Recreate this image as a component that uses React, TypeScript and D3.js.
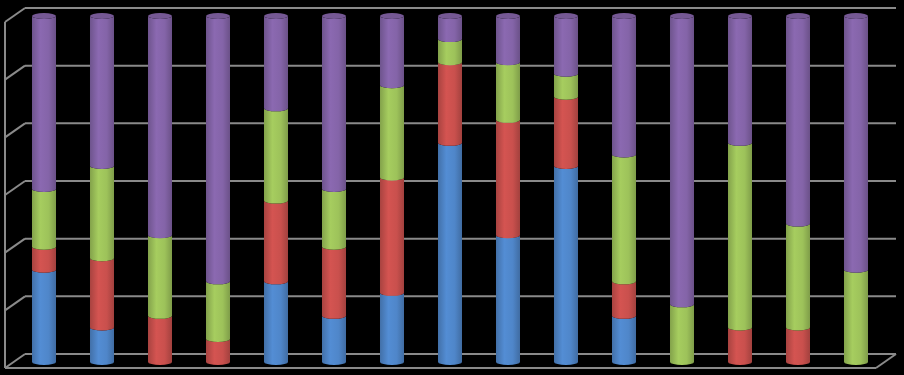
import React from 'react';
import * as d3 from 'd3';

const width = 904;
const height = 375;

// 15 columns, no visible labels
const categories = d3.range(15).map(i => `Q${i + 1}`);
const seriesKeys = ['blue', 'red', 'green', 'purple'];
const blue = [8, 3, 0, 0, 7, 4, 6, 19, 11, 17, 4, 0, 0, 0, 0];
const red = [2, 6, 4, 2, 7, 6, 10, 7, 10, 6, 3, 0, 3, 3, 0];
const green = [5, 8, 7, 5, 8, 5, 8, 2, 5, 2, 11, 5, 16, 9, 8];
const purple = [15, 13, 19, 23, 8, 15, 6, 2, 4, 5, 12, 25, 11, 18, 22];
const gridValues = [0, 5, 10, 15, 20, 25, 30];

const colors = {
  blue: '#4f86c9',
  red: '#c9504d',
  green: '#9dc25a',
  purple: '#8464a8',
};

const table = categories.map((c, i) => ({
  cat: c,
  blue: blue[i],
  red: red[i],
  green: green[i],
  purple: purple[i],
}));

// fake 3d: depth offset from back wall to front edge
const depthX = -20;
const depthY = 14;
const backLeft = 25;
const backRight = 896;

const yBack = d3.scaleLinear().domain([0, 30]).range([354, 8]);
const yBar = d3.scaleLinear().domain([0, 30]).range([362, 16]);
const x = d3
  .scaleBand()
  .domain(categories)
  .range([15, 885])
  .paddingInner(0.586)
  .paddingOuter(0.293);

const ry = 3;

const segPath = (cx, rx, yt, yb) =>
  `M${cx - rx},${yt} L${cx - rx},${yb} A${rx},${ry} 0 0 0 ${cx + rx},${yb} ` +
  `L${cx + rx},${yt} A${rx},${ry} 0 0 1 ${cx - rx},${yt} Z`;

const App = () => {
  const stacked = d3.stack().keys(seriesKeys)(table);
  const rx = x.bandwidth() / 2;
  const gridColor = '#8a8a8a';

  return (
    <svg
      width={width}
      height={height}
      style={{ position: 'absolute', left: 0, top: 0, display: 'block' }}
    >
      <defs>
        {seriesKeys.map(k => {
          const c = d3.color(colors[k]);
          return (
            <linearGradient key={k} id={`g-${k}`} x1="0" x2="1" y1="0" y2="0">
              <stop offset="0%" stopColor={c.darker(0.5).toString()} />
              <stop offset="35%" stopColor={c.brighter(0.15).toString()} />
              <stop offset="70%" stopColor={c.toString()} />
              <stop offset="100%" stopColor={c.darker(0.6).toString()} />
            </linearGradient>
          );
        })}
      </defs>
      <rect width={width} height={height} fill="#000" />

      {/* back wall gridlines */}
      {gridValues.map(v => (
        <line
          key={`g${v}`}
          x1={backLeft}
          x2={backRight}
          y1={yBack(v)}
          y2={yBack(v)}
          stroke={gridColor}
          strokeWidth={2}
        />
      ))}
      {/* left wall */}
      {gridValues.map(v => (
        <line
          key={`w${v}`}
          x1={backLeft}
          y1={yBack(v)}
          x2={backLeft + depthX}
          y2={yBack(v) + depthY}
          stroke={gridColor}
          strokeWidth={2}
        />
      ))}
      <line
        x1={backLeft + depthX}
        x2={backLeft + depthX}
        y1={yBack(30) + depthY}
        y2={yBack(0) + depthY}
        stroke={gridColor}
        strokeWidth={2}
      />
      {/* floor */}
      <line
        x1={backLeft + depthX}
        x2={backRight + depthX}
        y1={yBack(0) + depthY}
        y2={yBack(0) + depthY}
        stroke={gridColor}
        strokeWidth={2}
      />
      <line
        x1={backRight}
        y1={yBack(0)}
        x2={backRight + depthX}
        y2={yBack(0) + depthY}
        stroke={gridColor}
        strokeWidth={2}
      />

      {/* cylinders */}
      {stacked.map(layer =>
        layer.map((d, i) => {
          if (d[1] - d[0] <= 0) return null;
          const cx = x(categories[i]) + rx;
          return (
            <path
              key={`${layer.key}-${i}`}
              d={segPath(cx, rx, yBar(d[1]), yBar(d[0]))}
              fill={`url(#g-${layer.key})`}
            />
          );
        })
      )}
      {categories.map((c, i) => {
        const cx = x(c) + rx;
        const topKey = [...seriesKeys].reverse().find(k => table[i][k] > 0);
        return (
          <ellipse
            key={`cap${i}`}
            cx={cx}
            cy={yBar(30)}
            rx={rx}
            ry={ry}
            fill={d3.color(colors[topKey]).darker(0.35).toString()}
          />
        );
      })}
    </svg>
  );
};

export default App;
